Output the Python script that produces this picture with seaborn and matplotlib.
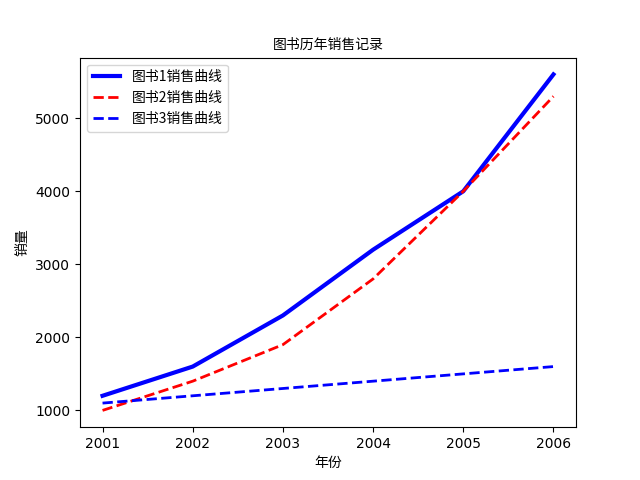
import matplotlib
matplotlib.use("Agg")
import matplotlib.pyplot as plt
import seaborn as sns
import pandas as pd

plt.rcParams['font.family'] = ['Noto Sans CJK SC', 'DejaVu Sans']
plt.rcParams['axes.unicode_minus'] = False

years = [2001, 2002, 2003, 2004, 2005, 2006]
book1 = [1200, 1600, 2300, 3200, 4000, 5600]
book2 = [1000, 1400, 1900, 2800, 4000, 5300]
book3 = [1100, 1200, 1300, 1400, 1500, 1600]
labels = ['图书1销售曲线', '图书2销售曲线', '图书3销售曲线']

fig, ax = plt.subplots(figsize=(6.4, 4.8), dpi=100)
sns.lineplot(x=years, y=book1, ax=ax, color='blue', linewidth=3, linestyle='-', label=labels[0])
sns.lineplot(x=years, y=book2, ax=ax, color='red', linewidth=2, linestyle='--', label=labels[1])
sns.lineplot(x=years, y=book3, ax=ax, color='blue', linewidth=2, linestyle='--', label=labels[2])

ax.set_title('图书历年销售记录', fontsize=10)
ax.set_xlabel('年份', fontsize=10)
ax.set_ylabel('销量', fontsize=10)
ax.set_xticks(years)
for t in ax.get_xticklabels() + ax.get_yticklabels():
    t.set_fontfamily('DejaVu Sans')
ax.legend(loc='upper left', prop={'family': ['Noto Sans CJK SC', 'DejaVu Sans'], 'size': 10})
fig.savefig('out.png', dpi=100)
